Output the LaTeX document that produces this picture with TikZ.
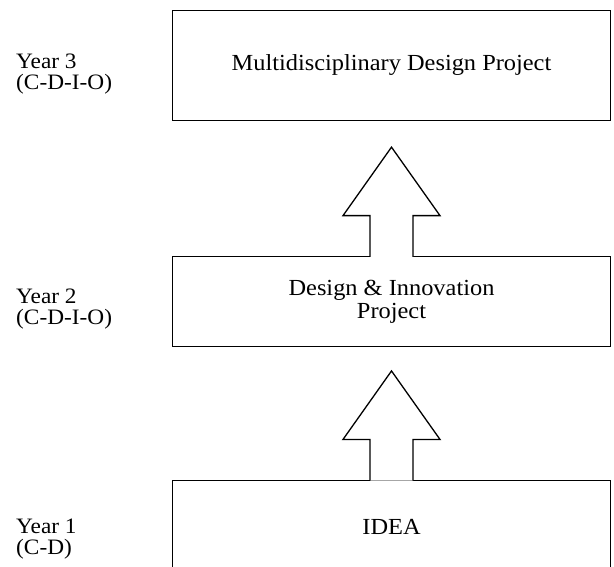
\documentclass[tikz,border=0pt]{standalone}
\usepackage{fontspec}
\setmainfont{Liberation Serif}[FakeStretch=1.06]
\usetikzlibrary{calc}
\tikzstyle{project}=[draw, line width=1.3pt, minimum width=438pt, inner sep=0pt,
  align=center, font=\fontsize{23}{23}\selectfont]
\tikzstyle{yearlabel}=[anchor=base west, align=left, inner sep=0pt,
  font=\fontsize{22}{21}\selectfont]
\tikzstyle{uparrow}=[draw, fill=white, line width=1.3pt]

\begin{document}
\begin{tikzpicture}[x=1pt,y=-1pt]
  \useasboundingbox (0,0) rectangle (614,567);
  \clip (0,0) rectangle (614,567);

  \path (391.5,65.5) node (p3) [project, minimum height=110pt] {Multidisciplinary Design Project};
  \path (p3.south)+(0,135) node (p2) [project, anchor=north, minimum height=89.5pt] {Design \& Innovation\\ Project};
  \path (p2.south)+(0,133) node (p1) [project, anchor=north, minimum height=92pt] {IDEA};

  \path (16,0 |- p3.base)+(0,19) node (y3) [yearlabel] {Year 3\\(C-D-I-O)};
  \path (16,324) node (y2) [yearlabel] {Year 2\\(C-D-I-O)};
  \path (16,0 |- p1.base)+(0,20) node (y1) [yearlabel] {Year 1\\(C-D)};

  % hollow block arrows, open into the box below
  \path [uparrow] ($(p2.north)+(-21.5,0.7)$) -- ++(0,-41.2) -- ++(-27,0) -- ++(48.5,-68.5)
    -- ++(48.5,68.5) -- ++(-27,0) -- ++(0,41.2);
  \path [uparrow] ($(p1.north)+(-21.5,0.7)$) -- ++(0,-41.2) -- ++(-27,0) -- ++(48.5,-68.5)
    -- ++(48.5,68.5) -- ++(-27,0) -- ++(0,41.2);
\end{tikzpicture}
\end{document}
